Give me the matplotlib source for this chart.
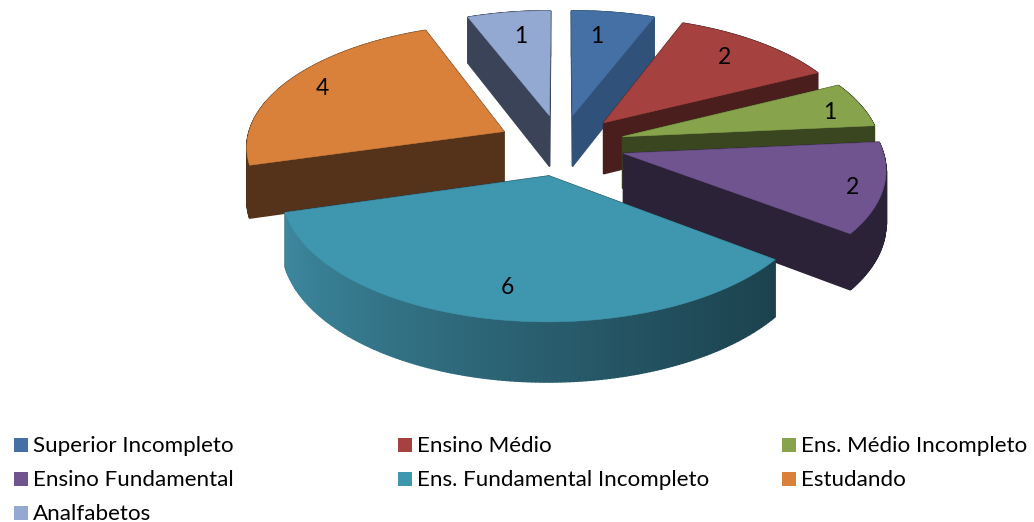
import numpy as np
import matplotlib
matplotlib.use("Agg")
import matplotlib.pyplot as plt
from matplotlib.colors import to_rgb
from matplotlib.patches import Polygon, Rectangle

# Chart data
categories = ['Superior Incompleto', 'Ensino Médio', 'Ens. Médio Incompleto',
              'Ensino Fundamental', 'Ens. Fundamental Incompleto', 'Estudando',
              'Analfabetos']
values = [1, 2, 1, 2, 6, 4, 1]
top_colors = ['#4570A5', '#A5423F', '#87A44D', '#6F5490', '#3F97AF', '#D9813B', '#94A9D1']
side_colors = ['#30527A', '#4A1E1C', '#3A4620', '#2C2238', '#1B3F4C', '#55331A', '#3A4358']

# Pie geometry in pixels
CX, CY = 561, 145
RX, RY = 258, 122.5
PERSP = 0.11
EXPLODE = 0.25
DEPTH = 52
LABEL_FRAC = 0.76
# small pixel nudges for the value labels
label_nudges = [(-7, 1), (1, -3), (25, 0), (33, 8), (0, 6), (-16, -4), (3, 1)]


def project(x, y, z=0.0):
    """Ground plane (x right, y back, unit radius) to pixel coordinates."""
    s = 1.0 / (1.0 + PERSP * y)
    return CX + RX * x * s, CY - RY * y * s + z * s


def add_face(ax, pts, color, lw=0.4):
    ax.add_patch(Polygon(pts, closed=True, facecolor=color, edgecolor=color, linewidth=lw))


def draw_slice(ax, start, end, top, side, gradient=False):
    mid = 0.5 * (start + end)
    ox, oy = EXPLODE * np.sin(mid), EXPLODE * np.cos(mid)
    theta = np.linspace(start, end, 160)
    xs, ys = ox + np.sin(theta), oy + np.cos(theta)

    faces = []
    # radial walls
    for t in (start, end):
        ex, ey = ox + np.sin(t), oy + np.cos(t)
        pts = [project(ox, oy), project(ex, ey), project(ex, ey, DEPTH), project(ox, oy, DEPTH)]
        faces.append(((oy + ey) / 2, pts, side))
    # outer wall in strips, so it can carry a shade
    for i in range(len(theta) - 1):
        pts = [project(xs[i], ys[i]), project(xs[i + 1], ys[i + 1]),
               project(xs[i + 1], ys[i + 1], DEPTH), project(xs[i], ys[i], DEPTH)]
        color = side
        if gradient:
            # light on the left, dark on the right
            f = ((xs[i] + 1.05) / 2.1) ** 0.8
            color = tuple((1 - f) * a + f * b for a, b in zip(to_rgb('#3F8CA3'), to_rgb('#173843')))
        faces.append(((ys[i] + ys[i + 1]) / 2, pts, color))

    for _, pts, color in sorted(faces, key=lambda item: -item[0]):
        add_face(ax, pts, color, lw=1.0)

    outline = [project(ox, oy)] + [project(a, b) for a, b in zip(xs, ys)]
    add_face(ax, outline, top)


fig = plt.figure(figsize=(10.34, 5.22), dpi=100)
ax = fig.add_axes([0, 0, 1, 1])
ax.set_xlim(0, 1034)
ax.set_ylim(522, 0)
ax.axis('off')

plt.rcParams['font.family'] = ['Lato', 'DejaVu Sans']

total = sum(values)
edges = np.concatenate([[0], np.cumsum(values)]) * 2 * np.pi / total
mids = 0.5 * (edges[:-1] + edges[1:])

# back slices first
for i in sorted(range(len(values)), key=lambda k: -np.cos(mids[k])):
    draw_slice(ax, edges[i], edges[i + 1], top_colors[i], side_colors[i], gradient=(i == 4))

# value labels on the slices
for i, v in enumerate(values):
    r = EXPLODE + LABEL_FRAC
    px, py = project(r * np.sin(mids[i]), r * np.cos(mids[i]))
    ax.text(px + label_nudges[i][0], py + label_nudges[i][1], str(v),
            ha='center', va='center', fontsize=16.5, color='black')

# legend, three columns
for i, name in enumerate(categories):
    row, col = divmod(i, 3)
    lx = 14 + col * 384
    ly = 445 + row * 34
    ax.add_patch(Rectangle((lx, ly - 7), 14, 14, facecolor=top_colors[i], edgecolor='none'))
    ax.text(lx + 19, ly + 1, name, ha='left', va='center', fontsize=16.1, color='black')

fig.savefig('out.png', dpi=100)
